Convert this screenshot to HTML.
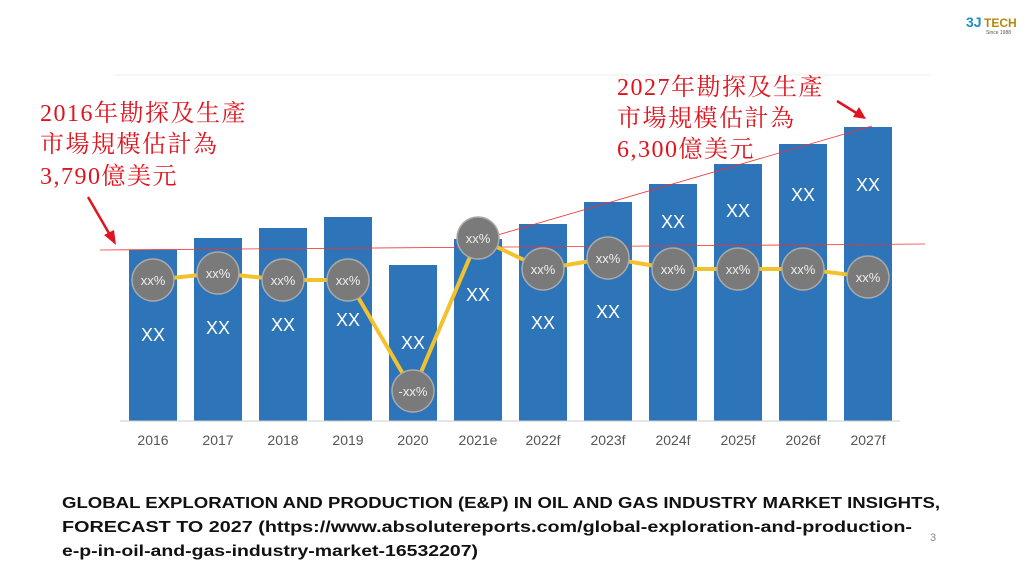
<!DOCTYPE html>
<html><head><meta charset="utf-8"><style>
html,body{margin:0;padding:0;background:#fff;}
svg{display:block}
.red{font-family:"Liberation Serif","Noto Serif CJK SC",serif;font-size:24px;fill:#e0141e;letter-spacing:1.5px}
.yr{font-family:"Liberation Sans",sans-serif;font-size:14px;fill:#555;text-anchor:middle}
.xx{font-family:"Liberation Sans",sans-serif;font-size:18px;fill:#fff;text-anchor:middle}
.pc{font-family:"Liberation Sans",sans-serif;font-size:13px;fill:#eee;text-anchor:middle}
.bt{font-family:"Liberation Sans",sans-serif;font-size:16px;font-weight:bold;fill:#111}
</style></head><body>
<svg width="1024" height="582" viewBox="0 0 1024 582">
<line x1="115" y1="75" x2="930" y2="75" stroke="#eee" stroke-width="1"/>
<g fill="#2e74b8">
<rect x="129" y="250" width="48" height="171"/>
<rect x="194" y="238" width="48" height="183"/>
<rect x="259" y="228" width="48" height="193"/>
<rect x="324" y="217" width="48" height="204"/>
<rect x="389" y="265" width="48" height="156"/>
<rect x="454" y="239" width="48" height="182"/>
<rect x="519" y="224" width="48" height="197"/>
<rect x="584" y="202" width="48" height="219"/>
<rect x="649" y="184" width="48" height="237"/>
<rect x="714" y="164" width="48" height="257"/>
<rect x="779" y="144" width="48" height="277"/>
<rect x="844" y="127" width="48" height="294"/>
</g>
<line x1="120" y1="421" x2="900" y2="421" stroke="#ccc" stroke-width="1"/>
<line x1="100" y1="250" x2="925" y2="244" stroke="#e33" stroke-width="0.8"/>
<line x1="470" y1="243" x2="872" y2="126" stroke="#e33" stroke-width="0.8"/>
<polyline fill="none" stroke="#f2c12e" stroke-width="4" points="153,280 218,273 283,280 348,280 413,391 478,238 543,269 608,258 673,269 738,269 803,269 868,277"/>
<g fill="#7a7a7a" stroke="#aaa" stroke-width="1.5">
<circle cx="153" cy="280" r="21"/><circle cx="218" cy="273" r="21"/><circle cx="283" cy="280" r="21"/><circle cx="348" cy="280" r="21"/><circle cx="413" cy="391" r="21"/><circle cx="478" cy="238" r="21"/><circle cx="543" cy="269" r="21"/><circle cx="608" cy="258" r="21"/><circle cx="673" cy="269" r="21"/><circle cx="738" cy="269" r="21"/><circle cx="803" cy="269" r="21"/><circle cx="868" cy="277" r="21"/>
</g>
<g class="pc">
<text x="153" y="285">xx%</text><text x="218" y="278">xx%</text><text x="283" y="285">xx%</text><text x="348" y="285">xx%</text><text x="413" y="396">-xx%</text><text x="478" y="243">xx%</text><text x="543" y="274">xx%</text><text x="608" y="263">xx%</text><text x="673" y="274">xx%</text><text x="738" y="274">xx%</text><text x="803" y="274">xx%</text><text x="868" y="282">xx%</text>
</g>
<g class="xx">
<text x="153" y="341">XX</text><text x="218" y="334">XX</text><text x="283" y="331">XX</text><text x="348" y="326">XX</text><text x="413" y="349">XX</text><text x="478" y="301">XX</text><text x="543" y="329">XX</text><text x="608" y="318">XX</text><text x="673" y="228">XX</text><text x="738" y="217">XX</text><text x="803" y="201">XX</text><text x="868" y="191">XX</text>
</g>
<g class="yr">
<text x="153" y="445">2016</text><text x="218" y="445">2017</text><text x="283" y="445">2018</text><text x="348" y="445">2019</text><text x="413" y="445">2020</text><text x="478" y="445">2021e</text><text x="543" y="445">2022f</text><text x="608" y="445">2023f</text><text x="673" y="445">2024f</text><text x="738" y="445">2025f</text><text x="803" y="445">2026f</text><text x="868" y="445">2027f</text>
</g>
<g class="red">
<text x="40" y="121">2016年勘探及生產</text>
<text x="40" y="152">市場規模估計為</text>
<text x="40" y="184">3,790億美元</text>
<text x="617" y="95">2027年勘探及生產</text>
<text x="617" y="126">市場規模估計為</text>
<text x="617" y="157">6,300億美元</text>
</g>
<g stroke="#e0141e" stroke-width="2.5" fill="#e0141e">
<line x1="88" y1="197" x2="110" y2="235"/><polygon points="116,245 104,235 114,230" stroke="none"/>
<line x1="837" y1="101" x2="858" y2="114"/><polygon points="866,119 853,117 859,107" stroke="none"/>
</g>
<text x="966" y="27" font-family="Liberation Sans,sans-serif" font-weight="bold" font-size="14" fill="#1a8fc0">3J</text>
<text x="984" y="27" font-family="Liberation Sans,sans-serif" font-weight="bold" font-size="12" fill="#b8860b">TECH</text>
<text x="986" y="34" font-family="Liberation Sans,sans-serif" font-size="5" fill="#555">Since 1988</text>
<g class="bt">
<text x="62" y="508" textLength="878" lengthAdjust="spacingAndGlyphs">GLOBAL EXPLORATION AND PRODUCTION (E&amp;P) IN OIL AND GAS INDUSTRY MARKET INSIGHTS,</text>
<text x="62" y="532" textLength="850" lengthAdjust="spacingAndGlyphs">FORECAST TO 2027 (https://www.absolutereports.com/global-exploration-and-production-</text>
<text x="62" y="556" textLength="416" lengthAdjust="spacingAndGlyphs">e-p-in-oil-and-gas-industry-market-16532207)</text>
</g>
<text x="930" y="541" font-family="Liberation Sans,sans-serif" font-size="11" fill="#888">3</text>
</svg>
</body></html>
